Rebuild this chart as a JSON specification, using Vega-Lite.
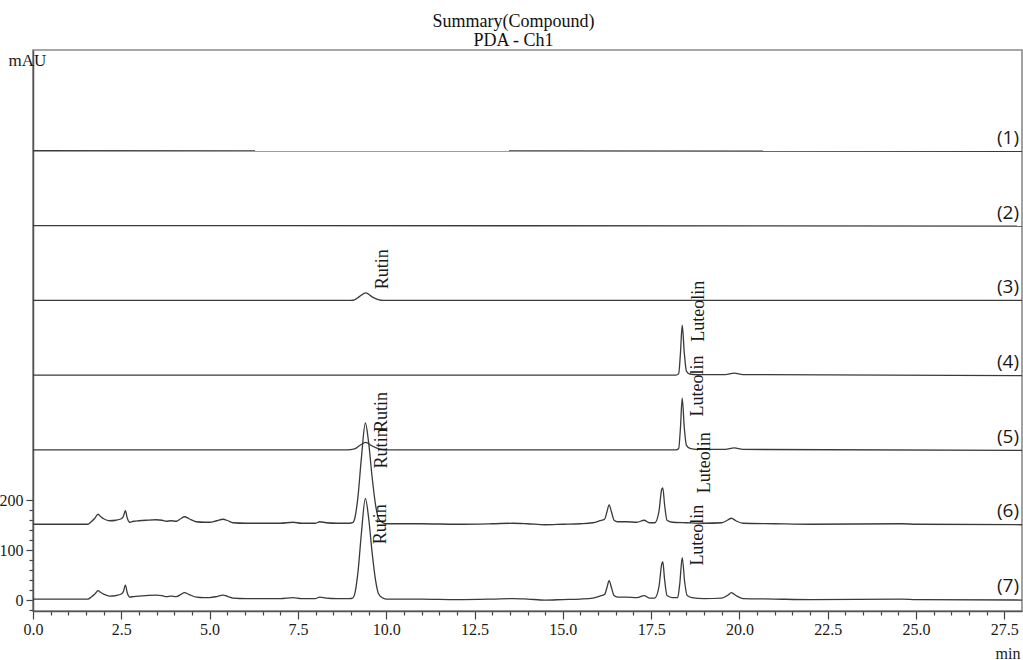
{
  "$schema": "https://vega.github.io/schema/vega-lite/v6.json",
  "width": 989,
  "height": 561,
  "autosize": {"type": "none"},
  "padding": {"left": 33, "top": 50, "right": 1, "bottom": 49},
  "background": "white",
  "title": {
    "text": ["Summary(Compound)", "PDA - Ch1"],
    "font": "Liberation Serif",
    "fontSize": 18,
    "fontWeight": "normal",
    "color": "#111111",
    "anchor": "middle",
    "dx": -14,
    "lineHeight": 19,
    "offset": 0
  },
  "config": {
    "view": {"stroke": "#8a8a8a", "strokeWidth": 1.6},
    "axis": {
      "grid": false,
      "domainColor": "#555555",
      "domainWidth": 1.5,
      "tickColor": "#444444",
      "tickWidth": 1.2,
      "labelFont": "Liberation Serif",
      "labelFontSize": 16,
      "labelColor": "#1a1a1a",
      "titleFont": "Liberation Serif",
      "titleFontWeight": "normal",
      "titleColor": "#1a1a1a",
      "labelOverlap": false,
      "labelFlush": false
    }
  },
  "datasets": {
    "traces": [
      {"s": "(1)", "t": 0, "v": 901}, {"s": "(1)", "t": 28, "v": 900},
      {"s": "(2)", "t": 0, "v": 751}, {"s": "(2)", "t": 28, "v": 750},
      {"s": "(3)", "t": 0, "v": 601}, {"s": "(3)", "t": 9.0, "v": 601}, {"s": "(3)", "t": 9.1, "v": 602}, {"s": "(3)", "t": 9.25, "v": 609}, {"s": "(3)", "t": 9.42, "v": 616}, {"s": "(3)", "t": 9.6, "v": 608}, {"s": "(3)", "t": 9.8, "v": 602}, {"s": "(3)", "t": 9.9, "v": 601}, {"s": "(3)", "t": 28, "v": 601},
      {"s": "(4)", "t": 0, "v": 451}, {"s": "(4)", "t": 18.2, "v": 451}, {"s": "(4)", "t": 18.28, "v": 454}, {"s": "(4)", "t": 18.33, "v": 495}, {"s": "(4)", "t": 18.38, "v": 551}, {"s": "(4)", "t": 18.44, "v": 495}, {"s": "(4)", "t": 18.5, "v": 459}, {"s": "(4)", "t": 18.6, "v": 453}, {"s": "(4)", "t": 18.8, "v": 452}, {"s": "(4)", "t": 19.6, "v": 452}, {"s": "(4)", "t": 19.85, "v": 455}, {"s": "(4)", "t": 20.1, "v": 452}, {"s": "(4)", "t": 28, "v": 450},
      {"s": "(5)", "t": 0, "v": 301}, {"s": "(5)", "t": 8.9, "v": 301}, {"s": "(5)", "t": 9.1, "v": 303}, {"s": "(5)", "t": 9.25, "v": 310}, {"s": "(5)", "t": 9.42, "v": 316}, {"s": "(5)", "t": 9.6, "v": 309}, {"s": "(5)", "t": 9.8, "v": 303}, {"s": "(5)", "t": 9.95, "v": 301}, {"s": "(5)", "t": 18.2, "v": 301}, {"s": "(5)", "t": 18.28, "v": 304}, {"s": "(5)", "t": 18.33, "v": 345}, {"s": "(5)", "t": 18.38, "v": 405}, {"s": "(5)", "t": 18.44, "v": 345}, {"s": "(5)", "t": 18.5, "v": 310}, {"s": "(5)", "t": 18.6, "v": 304}, {"s": "(5)", "t": 18.8, "v": 302}, {"s": "(5)", "t": 19.6, "v": 302}, {"s": "(5)", "t": 19.85, "v": 305}, {"s": "(5)", "t": 20.1, "v": 302}, {"s": "(5)", "t": 28, "v": 300},
      {"s": "(6)", "t": 0, "v": 152}, {"s": "(6)", "t": 1.55, "v": 152}, {"s": "(6)", "t": 1.65, "v": 157}, {"s": "(6)", "t": 1.75, "v": 164}, {"s": "(6)", "t": 1.84, "v": 172}, {"s": "(6)", "t": 1.92, "v": 167}, {"s": "(6)", "t": 2.0, "v": 163}, {"s": "(6)", "t": 2.17, "v": 159}, {"s": "(6)", "t": 2.35, "v": 160}, {"s": "(6)", "t": 2.5, "v": 163}, {"s": "(6)", "t": 2.56, "v": 168}, {"s": "(6)", "t": 2.615, "v": 179}, {"s": "(6)", "t": 2.67, "v": 164}, {"s": "(6)", "t": 2.74, "v": 156}, {"s": "(6)", "t": 2.85, "v": 158}, {"s": "(6)", "t": 3.0, "v": 159}, {"s": "(6)", "t": 3.2, "v": 160}, {"s": "(6)", "t": 3.49, "v": 161}, {"s": "(6)", "t": 3.65, "v": 160}, {"s": "(6)", "t": 3.78, "v": 158}, {"s": "(6)", "t": 3.9, "v": 159}, {"s": "(6)", "t": 4.06, "v": 158}, {"s": "(6)", "t": 4.18, "v": 163}, {"s": "(6)", "t": 4.29, "v": 167}, {"s": "(6)", "t": 4.42, "v": 163}, {"s": "(6)", "t": 4.62, "v": 157}, {"s": "(6)", "t": 4.85, "v": 156}, {"s": "(6)", "t": 5.0, "v": 156}, {"s": "(6)", "t": 5.2, "v": 159}, {"s": "(6)", "t": 5.38, "v": 162}, {"s": "(6)", "t": 5.52, "v": 159}, {"s": "(6)", "t": 5.66, "v": 155}, {"s": "(6)", "t": 6.04, "v": 154}, {"s": "(6)", "t": 6.6, "v": 154}, {"s": "(6)", "t": 7.0, "v": 154}, {"s": "(6)", "t": 7.36, "v": 156}, {"s": "(6)", "t": 7.6, "v": 154}, {"s": "(6)", "t": 8.0, "v": 154}, {"s": "(6)", "t": 8.12, "v": 157}, {"s": "(6)", "t": 8.3, "v": 155}, {"s": "(6)", "t": 8.6, "v": 154}, {"s": "(6)", "t": 8.96, "v": 154}, {"s": "(6)", "t": 9.05, "v": 155}, {"s": "(6)", "t": 9.12, "v": 167}, {"s": "(6)", "t": 9.2, "v": 207}, {"s": "(6)", "t": 9.3, "v": 287}, {"s": "(6)", "t": 9.41, "v": 355}, {"s": "(6)", "t": 9.5, "v": 317}, {"s": "(6)", "t": 9.6, "v": 247}, {"s": "(6)", "t": 9.7, "v": 190}, {"s": "(6)", "t": 9.78, "v": 164}, {"s": "(6)", "t": 9.88, "v": 156}, {"s": "(6)", "t": 10.0, "v": 153}, {"s": "(6)", "t": 11.0, "v": 153}, {"s": "(6)", "t": 12.0, "v": 152}, {"s": "(6)", "t": 13.0, "v": 153}, {"s": "(6)", "t": 13.6, "v": 154}, {"s": "(6)", "t": 14.0, "v": 153}, {"s": "(6)", "t": 14.5, "v": 151}, {"s": "(6)", "t": 15.0, "v": 152}, {"s": "(6)", "t": 15.5, "v": 153}, {"s": "(6)", "t": 15.85, "v": 155}, {"s": "(6)", "t": 16.05, "v": 159}, {"s": "(6)", "t": 16.18, "v": 162}, {"s": "(6)", "t": 16.25, "v": 177}, {"s": "(6)", "t": 16.31, "v": 191}, {"s": "(6)", "t": 16.38, "v": 176}, {"s": "(6)", "t": 16.45, "v": 160}, {"s": "(6)", "t": 16.55, "v": 157}, {"s": "(6)", "t": 16.8, "v": 157}, {"s": "(6)", "t": 17.1, "v": 156}, {"s": "(6)", "t": 17.3, "v": 160}, {"s": "(6)", "t": 17.45, "v": 155}, {"s": "(6)", "t": 17.6, "v": 155}, {"s": "(6)", "t": 17.72, "v": 177}, {"s": "(6)", "t": 17.8, "v": 222}, {"s": "(6)", "t": 17.83, "v": 225}, {"s": "(6)", "t": 17.88, "v": 192}, {"s": "(6)", "t": 17.95, "v": 160}, {"s": "(6)", "t": 18.1, "v": 156}, {"s": "(6)", "t": 18.5, "v": 155}, {"s": "(6)", "t": 19.0, "v": 154}, {"s": "(6)", "t": 19.5, "v": 155}, {"s": "(6)", "t": 19.68, "v": 161}, {"s": "(6)", "t": 19.77, "v": 164}, {"s": "(6)", "t": 19.9, "v": 159}, {"s": "(6)", "t": 20.1, "v": 154}, {"s": "(6)", "t": 21.0, "v": 153}, {"s": "(6)", "t": 22.0, "v": 152}, {"s": "(6)", "t": 24.6, "v": 153}, {"s": "(6)", "t": 25.0, "v": 152}, {"s": "(6)", "t": 28, "v": 151},
      {"s": "(7)", "t": 0, "v": 2}, {"s": "(7)", "t": 1.55, "v": 2}, {"s": "(7)", "t": 1.65, "v": 6}, {"s": "(7)", "t": 1.75, "v": 12}, {"s": "(7)", "t": 1.84, "v": 19}, {"s": "(7)", "t": 1.92, "v": 15}, {"s": "(7)", "t": 2.0, "v": 12}, {"s": "(7)", "t": 2.17, "v": 8}, {"s": "(7)", "t": 2.35, "v": 9}, {"s": "(7)", "t": 2.5, "v": 12}, {"s": "(7)", "t": 2.56, "v": 17}, {"s": "(7)", "t": 2.615, "v": 30}, {"s": "(7)", "t": 2.67, "v": 14}, {"s": "(7)", "t": 2.74, "v": 6}, {"s": "(7)", "t": 2.85, "v": 7}, {"s": "(7)", "t": 3.0, "v": 8}, {"s": "(7)", "t": 3.2, "v": 9}, {"s": "(7)", "t": 3.49, "v": 10}, {"s": "(7)", "t": 3.65, "v": 9}, {"s": "(7)", "t": 3.78, "v": 7}, {"s": "(7)", "t": 3.9, "v": 8}, {"s": "(7)", "t": 4.06, "v": 7}, {"s": "(7)", "t": 4.18, "v": 11}, {"s": "(7)", "t": 4.29, "v": 15}, {"s": "(7)", "t": 4.42, "v": 11}, {"s": "(7)", "t": 4.62, "v": 6}, {"s": "(7)", "t": 4.85, "v": 5}, {"s": "(7)", "t": 5.0, "v": 5}, {"s": "(7)", "t": 5.2, "v": 7}, {"s": "(7)", "t": 5.38, "v": 10}, {"s": "(7)", "t": 5.52, "v": 7}, {"s": "(7)", "t": 5.66, "v": 4}, {"s": "(7)", "t": 6.04, "v": 3}, {"s": "(7)", "t": 6.6, "v": 3}, {"s": "(7)", "t": 7.0, "v": 3}, {"s": "(7)", "t": 7.36, "v": 5}, {"s": "(7)", "t": 7.6, "v": 3}, {"s": "(7)", "t": 8.0, "v": 3}, {"s": "(7)", "t": 8.12, "v": 6}, {"s": "(7)", "t": 8.3, "v": 4}, {"s": "(7)", "t": 8.6, "v": 3}, {"s": "(7)", "t": 8.96, "v": 3}, {"s": "(7)", "t": 9.05, "v": 4}, {"s": "(7)", "t": 9.12, "v": 16}, {"s": "(7)", "t": 9.2, "v": 56}, {"s": "(7)", "t": 9.3, "v": 136}, {"s": "(7)", "t": 9.41, "v": 204}, {"s": "(7)", "t": 9.5, "v": 166}, {"s": "(7)", "t": 9.6, "v": 96}, {"s": "(7)", "t": 9.7, "v": 39}, {"s": "(7)", "t": 9.78, "v": 13}, {"s": "(7)", "t": 9.88, "v": 5}, {"s": "(7)", "t": 10.0, "v": 2}, {"s": "(7)", "t": 11.0, "v": 2}, {"s": "(7)", "t": 12.0, "v": 1}, {"s": "(7)", "t": 13.0, "v": 2}, {"s": "(7)", "t": 13.6, "v": 3}, {"s": "(7)", "t": 14.0, "v": 2}, {"s": "(7)", "t": 14.5, "v": 0}, {"s": "(7)", "t": 15.0, "v": 1}, {"s": "(7)", "t": 15.5, "v": 2}, {"s": "(7)", "t": 15.85, "v": 4}, {"s": "(7)", "t": 16.05, "v": 8}, {"s": "(7)", "t": 16.18, "v": 11}, {"s": "(7)", "t": 16.25, "v": 25}, {"s": "(7)", "t": 16.31, "v": 39}, {"s": "(7)", "t": 16.38, "v": 24}, {"s": "(7)", "t": 16.45, "v": 9}, {"s": "(7)", "t": 16.55, "v": 6}, {"s": "(7)", "t": 16.8, "v": 6}, {"s": "(7)", "t": 17.1, "v": 5}, {"s": "(7)", "t": 17.3, "v": 9}, {"s": "(7)", "t": 17.45, "v": 4}, {"s": "(7)", "t": 17.6, "v": 4}, {"s": "(7)", "t": 17.72, "v": 26}, {"s": "(7)", "t": 17.8, "v": 72}, {"s": "(7)", "t": 17.83, "v": 77}, {"s": "(7)", "t": 17.88, "v": 42}, {"s": "(7)", "t": 17.95, "v": 9}, {"s": "(7)", "t": 18.1, "v": 5}, {"s": "(7)", "t": 18.25, "v": 5}, {"s": "(7)", "t": 18.31, "v": 32}, {"s": "(7)", "t": 18.38, "v": 85}, {"s": "(7)", "t": 18.45, "v": 36}, {"s": "(7)", "t": 18.52, "v": 9}, {"s": "(7)", "t": 18.65, "v": 5}, {"s": "(7)", "t": 19.0, "v": 3}, {"s": "(7)", "t": 19.5, "v": 4}, {"s": "(7)", "t": 19.68, "v": 10}, {"s": "(7)", "t": 19.77, "v": 15}, {"s": "(7)", "t": 19.9, "v": 9}, {"s": "(7)", "t": 20.1, "v": 3}, {"s": "(7)", "t": 21.0, "v": 2}, {"s": "(7)", "t": 22.0, "v": 1}, {"s": "(7)", "t": 24.6, "v": 2}, {"s": "(7)", "t": 25.0, "v": 1}, {"s": "(7)", "t": 28, "v": 0}
    ],
    "peaks": [
      {"name": "Rutin", "t": 10.04, "v": 623},
      {"name": "Rutin", "t": 10.02, "v": 337},
      {"name": "Rutin", "t": 10.02, "v": 264},
      {"name": "Rutin", "t": 10.0, "v": 112},
      {"name": "Luteolin", "t": 19.01, "v": 518},
      {"name": "Luteolin", "t": 18.98, "v": 368},
      {"name": "Luteolin", "t": 19.18, "v": 214},
      {"name": "Luteolin", "t": 18.98, "v": 69}
    ],
    "tags": [
      {"s": "(1)", "t": 28, "v": 901},
      {"s": "(2)", "t": 28, "v": 751},
      {"s": "(3)", "t": 28, "v": 601},
      {"s": "(4)", "t": 28, "v": 451},
      {"s": "(5)", "t": 28, "v": 301},
      {"s": "(6)", "t": 28, "v": 152},
      {"s": "(7)", "t": 28, "v": 2}
    ]
  },
  "encoding": {
    "x": {
      "field": "t",
      "type": "quantitative",
      "scale": {"domain": [0, 28], "nice": false, "zero": false},
      "axis": {
        "values": [0, 0.5, 1, 1.5, 2, 2.5, 3, 3.5, 4, 4.5, 5, 5.5, 6, 6.5, 7, 7.5, 8, 8.5, 9, 9.5, 10, 10.5, 11, 11.5, 12, 12.5, 13, 13.5, 14, 14.5, 15, 15.5, 16, 16.5, 17, 17.5, 18, 18.5, 19, 19.5, 20, 20.5, 21, 21.5, 22, 22.5, 23, 23.5, 24, 24.5, 25, 25.5, 26, 26.5, 27, 27.5],
        "labelExpr": "abs(datum.value / 2.5 - round(datum.value / 2.5)) < 0.01 ? format(datum.value, '.1f') : ''",
        "tickSize": {"condition": {"test": "abs(datum.value / 2.5 - round(datum.value / 2.5)) < 0.01", "value": 8}, "value": 4},
        "labelPadding": 2,
        "title": "min",
        "titleFontSize": 16,
        "titleAlign": "right",
        "titleBaseline": "alphabetic",
        "titleAnchor": "end",
        "titleX": 987,
        "titleY": 47
      }
    },
    "y": {
      "field": "v",
      "type": "quantitative",
      "scale": {"domain": [-22, 1103], "nice": false, "zero": false},
      "axis": {
        "values": [-20, 0, 20, 40, 60, 80, 100, 120, 140, 160, 180, 200],
        "labelExpr": "datum.value % 100 === 0 ? format(datum.value, 'd') : ''",
        "tickSize": {"condition": {"test": "datum.value % 100 === 0", "value": 7}, "value": 4},
        "labelPadding": 3,
        "title": "mAU",
        "titleFontSize": 17,
        "titleAngle": 0,
        "titleAlign": "left",
        "titleBaseline": "alphabetic",
        "titleX": -25,
        "titleY": 15
      }
    }
  },
  "layer": [
    {
      "data": {"name": "traces"},
      "mark": {"type": "line", "color": "#3a3a3a", "strokeWidth": 1.3, "interpolate": "monotone"},
      "encoding": {"detail": {"field": "s", "type": "nominal"}}
    },
    {
      "data": {"name": "peaks"},
      "mark": {"type": "text", "angle": 270, "align": "left", "baseline": "alphabetic", "font": "Liberation Serif", "fontSize": 18, "color": "#1a1a1a"},
      "encoding": {"text": {"field": "name", "type": "nominal"}}
    },
    {
      "data": {"name": "tags"},
      "mark": {"type": "text", "align": "right", "baseline": "alphabetic", "dx": -3, "dy": -7, "font": "Open Sans", "fontSize": 19, "color": "#1a1a1a"},
      "encoding": {"text": {"field": "s", "type": "nominal"}}
    }
  ]
}
